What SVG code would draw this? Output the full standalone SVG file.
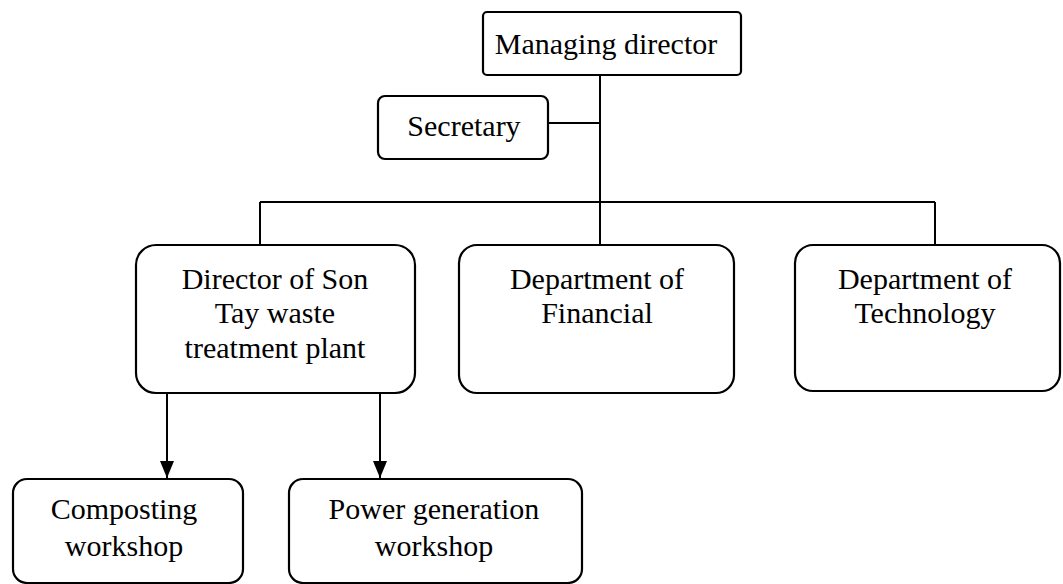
<svg xmlns="http://www.w3.org/2000/svg" width="1063" height="584" viewBox="0 0 1063 584">
  <style>
    .box { fill: #ffffff; stroke: #000000; stroke-width: 2.2; }
    .lbl { font-family: "Liberation Serif", "Times New Roman", serif; font-size: 30px; fill: #000000; text-anchor: middle; }
    .wire { fill: none; stroke: #000000; stroke-width: 2; }
    .arrow { marker-end: url(#arrowhead); }
  </style>
  <defs>
    <!-- solid triangular head, tip at the end of the line -->
    <marker id="arrowhead" viewBox="0 0 17 14" refX="17" refY="7" markerWidth="17" markerHeight="14" markerUnits="userSpaceOnUse" orient="auto">
      <path d="M0,0 L17,7 L0,14 Z" fill="#000000"/>
    </marker>
  </defs>
  <rect width="1063" height="584" fill="#ffffff"/>

  <g id="connectors">
    <!-- trunk from the managing director down to the bus -->
    <path class="wire" d="M600,75 V245"/>
    <!-- secretary branch -->
    <path class="wire" d="M548,123 H600"/>
    <!-- horizontal bus and drops -->
    <path class="wire" d="M260,202 H935"/>
    <path class="wire" d="M260,202 V245"/>
    <path class="wire" d="M935,202 V245"/>
    <!-- plant director to workshops -->
    <path class="wire arrow" d="M167,393 V478"/>
    <path class="wire arrow" d="M380,393 V478"/>
  </g>

  <g id="managing-director">
    <rect class="box" x="483" y="12" width="258" height="63" rx="4"/>
    <text class="lbl" x="606" y="54">Managing director</text>
  </g>

  <g id="secretary">
    <rect class="box" x="378" y="96" width="170" height="63" rx="7"/>
    <text class="lbl" x="464" y="136">Secretary</text>
  </g>

  <g id="plant-director">
    <rect class="box" x="136" y="245" width="279" height="148" rx="20"/>
    <text class="lbl" x="275" y="289">Director of Son</text>
    <text class="lbl" x="275" y="323">Tay waste</text>
    <text class="lbl" x="275" y="358">treatment plant</text>
  </g>

  <g id="dept-financial">
    <rect class="box" x="459" y="245" width="275" height="148" rx="18"/>
    <text class="lbl" x="597" y="289">Department of</text>
    <text class="lbl" x="597" y="323">Financial</text>
  </g>

  <g id="dept-technology">
    <rect class="box" x="795" y="245" width="265" height="146" rx="18"/>
    <text class="lbl" x="925" y="289">Department of</text>
    <text class="lbl" x="925" y="323">Technology</text>
  </g>

  <g id="composting-workshop">
    <rect class="box" x="13" y="479" width="230" height="104" rx="14"/>
    <text class="lbl" x="124" y="519">Composting</text>
    <text class="lbl" x="124" y="556">workshop</text>
  </g>

  <g id="power-workshop">
    <rect class="box" x="289" y="479" width="293" height="104" rx="14"/>
    <text class="lbl" x="434" y="519">Power generation</text>
    <text class="lbl" x="434" y="556">workshop</text>
  </g>
</svg>
